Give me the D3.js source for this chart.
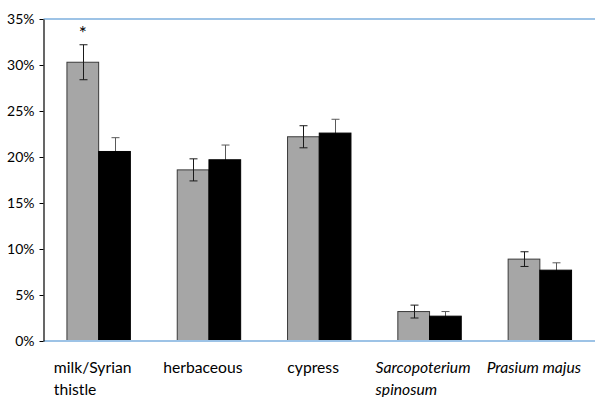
<!DOCTYPE html>
<html>
<head>
<meta charset="utf-8">
<script src="https://cdn.jsdelivr.net/npm/d3@7/dist/d3.min.js"></script>
<style>
  html, body { margin: 0; padding: 0; background: #fff; }
  svg { display: block; }
  text { font-family: Lato, "Open Sans", sans-serif; fill: #000; }
</style>
</head>
<body>
<svg id="chart" width="595" height="397"></svg>
<script>
// Category labels (each entry is a list of wrapped lines) and styling flag for species names
const categories = ["milk/Syrian thistle", "herbaceous", "cypress", "Sarcopoterium spinosum", "Prasium majus"];
const labelLines = [["milk/Syrian", "thistle"], ["herbaceous"], ["cypress"], ["Sarcopoterium", "spinosum"], ["Prasium majus"]];
const labelItalic = [false, false, false, true, true];

// Series values (percent) and their error half-widths
const grayValues  = [30.3, 18.6, 22.2, 3.2, 8.9];
const grayErrors  = [1.9, 1.2, 1.2, 0.7, 0.8];
const blackValues = [20.6, 19.7, 22.6, 2.7, 7.7];
const blackErrors = [1.5, 1.6, 1.5, 0.5, 0.8];

// Significance markers per category (drawn above the gray bar)
const markers = ["*", "", "", "", ""];

const yTicks = [0, 5, 10, 15, 20, 25, 30, 35];

const svg = d3.select("#chart");
const margin = { left: 43.5, right: 0, top: 19, bottom: 56 };
const W = 595, H = 397;

const x = d3.scaleBand()
  .domain(categories)
  .range([margin.left, W - margin.right])
  .paddingInner(0.425)
  .paddingOuter(0.2125);

const y = d3.scaleLinear().domain([0, 35]).range([H - margin.bottom, margin.top]);

const series = [
  { values: grayValues, errors: grayErrors, fill: "#a6a6a6", stroke: "#3a3a3a", err: "#1a1a1a" },
  { values: blackValues, errors: blackErrors, fill: "#000000", stroke: "#000000", err: "#595959" }
];
const inner = d3.scaleBand().domain([0, 1]).range([0, x.bandwidth()]);

// Top boundary line at 35%
svg.append("line")
  .attr("x1", margin.left).attr("x2", W - margin.right)
  .attr("y1", y(35)).attr("y2", y(35))
  .attr("stroke", "#9dc3e6").attr("stroke-width", 2);

function drawBars(s, si) {
  svg.append("g").selectAll("rect")
    .data(categories)
    .join("rect")
    .attr("x", (d) => x(d) + inner(si))
    .attr("width", inner.bandwidth())
    .attr("y", (d, i) => y(s.values[i]))
    .attr("height", (d, i) => y(0) - y(s.values[i]))
    .attr("fill", s.fill)
    .attr("stroke", s.stroke)
    .attr("stroke-width", 1);
}

function drawErrors(s, si) {
  const g = svg.append("g").attr("stroke", s.err).attr("stroke-width", 1);
  categories.forEach((c, i) => {
    const cx = Math.round(x(c) + inner(si) + inner.bandwidth() / 2) + 0.5;
    const hi = y(s.values[i] + s.errors[i]);
    const lo = y(s.values[i] - s.errors[i]);
    g.append("line").attr("x1", cx).attr("x2", cx).attr("y1", hi).attr("y2", lo);
    g.append("line").attr("x1", cx - 4).attr("x2", cx + 4).attr("y1", hi).attr("y2", hi);
    g.append("line").attr("x1", cx - 4).attr("x2", cx + 4).attr("y1", lo).attr("y2", lo);
  });
}

// Gray series: bars then error bars; black series: error bars sit behind the bars
drawBars(series[0], 0);
drawErrors(series[0], 0);
drawErrors(series[1], 1);
drawBars(series[1], 1);

// Significance markers
svg.append("g").selectAll("text")
  .data(categories)
  .join("text")
  .attr("x", (d) => x(d) + inner(0) + inner.bandwidth() / 2)
  .attr("y", (d, i) => y(grayValues[i] + grayErrors[i]) - 5)
  .attr("text-anchor", "middle")
  .attr("font-size", 19)
  .text((d, i) => markers[i]);

// X axis baseline
svg.append("line")
  .attr("x1", margin.left).attr("x2", W - margin.right)
  .attr("y1", y(0)).attr("y2", y(0))
  .attr("stroke", "#9dc3e6").attr("stroke-width", 2);

// Y axis
const yAxis = d3.axisLeft(y)
  .tickValues(yTicks)
  .tickFormat((d) => d + "%")
  .tickSize(4)
  .tickSizeOuter(0)
  .tickPadding(5);
const ya = svg.append("g").attr("transform", `translate(${margin.left},0)`).call(yAxis);
ya.select(".domain").attr("stroke", "#000").attr("stroke-width", 1.2);
ya.selectAll(".tick line").attr("stroke", "#000");
ya.selectAll(".tick text")
  .attr("font-size", 14)
  .attr("font-family", "Lato, 'Open Sans', sans-serif")
  .attr("fill", "#000");

// Category labels: wrapped lines, left-aligned within a block centred under the group
const lab = svg.append("g");
categories.forEach((c, i) => {
  const t = lab.append("text")
    .attr("font-size", 15.7)
    .attr("font-style", labelItalic[i] ? "italic" : "normal");
  labelLines[i].forEach((ln, k) => {
    t.append("tspan").attr("x", 0).attr("y", 373 + k * 22).text(ln);
  });
  const w = t.node().getBBox().width;
  const cx = x(c) + x.bandwidth() / 2;
  const left = Math.min(cx - w / 2 - 6, W - 7 - w);
  t.attr("transform", `translate(${left},0)`);
});
</script>
</body>
</html>
